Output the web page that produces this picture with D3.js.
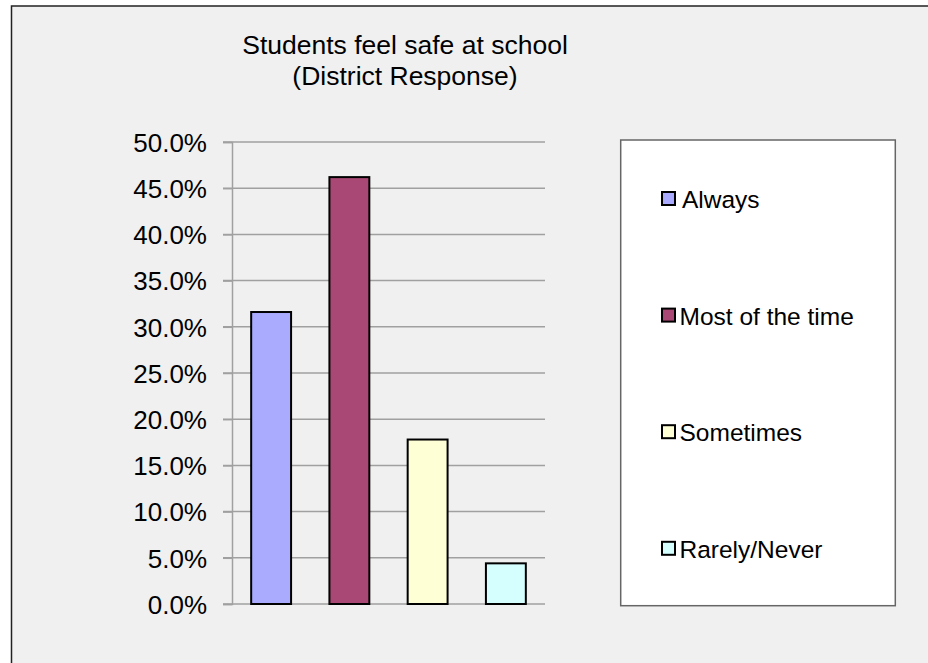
<!DOCTYPE html>
<html>
<head>
<meta charset="utf-8">
<script src="https://cdn.jsdelivr.net/npm/d3@7"></script>
<style>
  html, body { margin: 0; padding: 0; background: #ffffff; }
  svg { display: block; font-family: "Liberation Sans", Arial, sans-serif; }
</style>
</head>
<body>
<svg id="chart" width="928" height="663"></svg>
<script>
const categories = ["Always", "Most of the time", "Sometimes", "Rarely/Never"];
const values = [31.6, 46.2, 17.8, 4.4];
const colors = ["#aaaaff", "#a94874", "#ffffd5", "#d5ffff"];
const yTicks = [0, 5, 10, 15, 20, 25, 30, 35, 40, 45, 50];
const titleLines = ["Students feel safe at school", "(District Response)"];

const svg = d3.select("#chart");

// chart area background and border
svg.append("rect")
  .attr("x", 11.5).attr("y", 6)
  .attr("width", 940).attr("height", 700)
  .attr("fill", "#f0f0f0")
  .attr("stroke", "#222").attr("stroke-width", 1.5);

// title
svg.append("text")
  .attr("text-anchor", "middle")
  .attr("font-size", 26.5)
  .attr("fill", "#000")
  .selectAll("tspan").data(titleLines).join("tspan")
  .attr("x", 405)
  .attr("y", (d, i) => 54 + i * 31)
  .text(d => d);

const x = d3.scaleBand().domain(categories).range([232, 545])
  .paddingInner(0.49).paddingOuter(0.245);
const y = d3.scaleLinear().domain([0, 50]).range([604, 142]);

// gridlines
svg.append("g").selectAll("line").data(yTicks).join("line")
  .attr("x1", 223).attr("x2", 545)
  .attr("y1", d => y(d)).attr("y2", d => y(d))
  .attr("stroke", "#a0a0a0").attr("stroke-width", 1.5);

// y axis
const yAxis = d3.axisLeft(y).tickValues(yTicks)
  .tickFormat(d => d3.format(".1f")(d) + "%")
  .tickSize(9).tickPadding(16);
const ga = svg.append("g").attr("transform", "translate(232,0)").call(yAxis);
ga.select(".domain").attr("stroke", "#a0a0a0").attr("stroke-width", 1.5);
ga.selectAll(".tick line").attr("stroke", "#a0a0a0").attr("stroke-width", 1.5);
ga.selectAll(".tick text")
  .attr("font-size", 26).attr("font-family", "Liberation Sans, Arial, sans-serif")
  .attr("fill", "#000").attr("dy", "0.36em");

// bars
svg.append("g").selectAll("rect").data(categories).join("rect")
  .attr("x", d => x(d))
  .attr("y", (d, i) => y(values[i]))
  .attr("width", x.bandwidth())
  .attr("height", (d, i) => y(0) - y(values[i]))
  .attr("fill", (d, i) => colors[i])
  .attr("stroke", "#000").attr("stroke-width", 2);

// legend
svg.append("rect")
  .attr("x", 620.7).attr("y", 140)
  .attr("width", 274.6).attr("height", 465.7)
  .attr("fill", "#ffffff")
  .attr("stroke", "#666").attr("stroke-width", 1.5);

const leg = svg.append("g").selectAll("g").data(categories).join("g")
  .attr("transform", (d, i) => `translate(0,${198.5 + i * 116.6})`);
leg.append("rect")
  .attr("x", 662).attr("y", -6.5).attr("width", 13).attr("height", 13)
  .attr("fill", (d, i) => colors[i])
  .attr("stroke", "#000").attr("stroke-width", 2);
leg.append("text")
  .attr("x", (d, i) => i === 0 ? 682 : 679.5)
  .attr("y", 9.5)
  .attr("font-size", 24.5)
  .attr("fill", "#000")
  .text(d => d);
</script>
</body>
</html>
